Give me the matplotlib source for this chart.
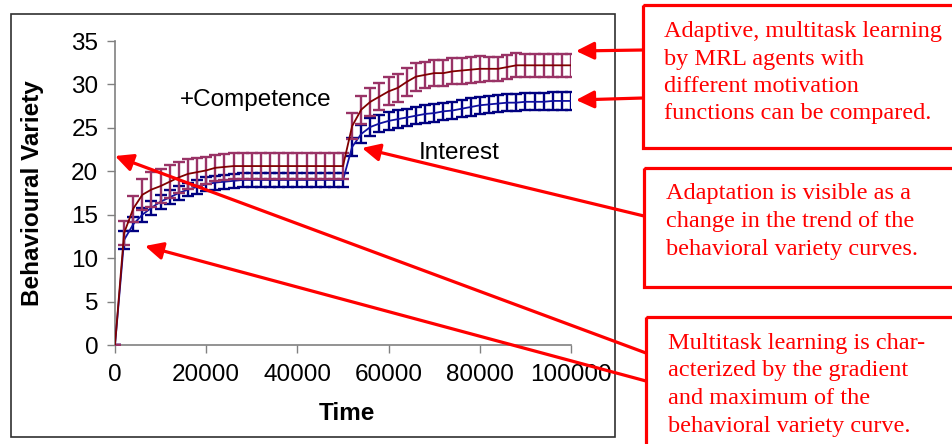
import numpy as np
import matplotlib.pyplot as plt
from matplotlib.patches import Rectangle

# === Data ===
time = np.arange(0, 100001, 2000)

competence = [0, 12.9, 15.7, 17.3, 17.9, 18.3, 18.8, 19.3, 19.7, 19.9, 20.1, 20.4, 20.5, 20.6, 20.6,
              20.6, 20.6, 20.6, 20.6, 20.6, 20.6, 20.6, 20.6, 20.6, 20.6, 20.6,
              25.2, 27.1, 28.0, 28.6, 29.2, 29.6, 30.3, 30.9, 31.1, 31.3, 31.3, 31.5, 31.6, 31.7,
              31.8, 31.8, 31.8, 32.0, 32.2, 32.2, 32.2, 32.2, 32.2, 32.2, 32.2]
competence_err = [0, 1.4, 1.5, 1.8, 2.0, 2.0, 1.9, 1.8, 1.7, 1.6, 1.6, 1.5, 1.5, 1.5, 1.5,
                  1.5, 1.5, 1.5, 1.5, 1.5, 1.5, 1.5, 1.5, 1.5, 1.5, 1.5,
                  1.5, 1.6, 1.6, 1.6, 1.6, 1.6, 1.6, 1.6, 1.5, 1.5, 1.5, 1.5, 1.5, 1.5,
                  1.5, 1.4, 1.4, 1.4, 1.4, 1.3, 1.3, 1.3, 1.3, 1.3, 1.3]

interest = [0, 12.1, 13.9, 15.0, 15.8, 16.5, 17.0, 17.5, 17.9, 18.2, 18.5, 18.7, 18.8, 18.9, 19.0,
            19.0, 19.0, 19.0, 19.0, 19.0, 19.0, 19.0, 19.0, 19.0, 19.0, 19.0,
            22.8, 24.3, 25.1, 25.5, 25.8, 26.0, 26.2, 26.4, 26.6, 26.7, 26.9, 27.0, 27.2, 27.4,
            27.6, 27.7, 27.8, 27.9, 27.9, 28.0, 28.0, 28.0, 28.1, 28.1, 28.1]
interest_err = [0, 1.0, 0.8, 0.8, 0.8, 0.8, 0.8, 0.8, 0.8, 0.8, 0.8, 0.8, 0.8, 0.8, 0.8,
                0.8, 0.8, 0.8, 0.8, 0.8, 0.8, 0.8, 0.8, 0.8, 0.8, 0.8,
                1.0, 1.0, 1.0, 1.0, 1.0, 1.0, 1.0, 1.0, 1.0, 1.0, 1.0, 1.0, 1.0, 1.0,
                1.0, 1.0, 1.0, 1.0, 1.0, 1.0, 1.0, 1.0, 1.0, 1.0, 1.0]

x_ticks = [0, 20000, 40000, 60000, 80000, 100000]
y_ticks = [0, 5, 10, 15, 20, 25, 30, 35]

box_texts = [
    ["Adaptive, multitask learning", "by MRL agents with", "different motivation",
     "functions can be compared."],
    ["Adaptation is visible as a", "change in the trend of the", "behavioral variety curves."],
    ["Multitask learning is char-", "acterized by the gradient", "and maximum of the",
     "behavioral variety curve."],
]

plt.rcParams['font.family'] = ['Liberation Sans', 'DejaVu Sans']

W, H = 953, 444
fig = plt.figure(figsize=(W / 100, H / 100), dpi=100)

# === Main chart ===
ax = fig.add_axes([115 / W, 1 - 345 / H, 456 / W, 304 / H])

ax.errorbar(time, interest, yerr=interest_err, fmt='none', ecolor='#000080',
            elinewidth=1.7, capsize=4.2, capthick=1.7, zorder=2)
ax.plot(time, interest, color='#1010A0', lw=1.3, zorder=3)
ax.errorbar(time, competence, yerr=competence_err, fmt='none', ecolor='#993366',
            elinewidth=1.7, capsize=4.2, capthick=1.7, zorder=4)
ax.plot(time, competence, color='#800000', lw=1.3, zorder=5)

ax.set_xlim(0, 100000)
ax.set_ylim(0, 35)
ax.set_xticks(x_ticks)
ax.set_yticks(y_ticks)
ax.set_xticklabels([str(v) for v in x_ticks], fontsize=17.5)
ax.set_yticklabels([str(v) for v in y_ticks], fontsize=17.5)
ax.tick_params(axis='both', direction='out', length=6, width=1, color='#808080')
ax.tick_params(axis='x', pad=8)
ax.tick_params(axis='y', pad=6)
for s in ['top', 'right']:
    ax.spines[s].set_visible(False)
for s in ['left', 'bottom']:
    ax.spines[s].set_color('#808080')
    ax.spines[s].set_linewidth(1.2)

ax.set_xlabel("Time", fontsize=17.5, fontweight='bold', va='center')
ax.xaxis.set_label_coords(0.509, -0.224)
ax.set_ylabel("Behavioural Variety", fontsize=17.5, fontweight='bold', va='center')
ax.yaxis.set_label_coords(-0.182, 0.5)

ax.text(0.142, 0.805, "+Competence", transform=ax.transAxes, fontsize=17.5,
        ha='left', va='center')
ax.text(0.667, 0.63, "Interest", transform=ax.transAxes, fontsize=17.5,
        ha='left', va='center')

# === Overlay in pixel coordinates: frame, boxes, arrows ===
ov = fig.add_axes([0, 0, 1, 1], zorder=10)
ov.set_xlim(0, W)
ov.set_ylim(H, 0)
ov.axis('off')
ov.patch.set_alpha(0)

ov.add_patch(Rectangle((11, 14), 604, 423, fill=False, ec='#303030', lw=1.2))

boxes = [(643, 5, 143), (644, 168, 119), (646, 317, 140)]
for (bx, by, bh) in boxes:
    ov.add_patch(Rectangle((bx, by), 320, bh, fill=False, ec='red', lw=2.3, clip_on=False))

line_y = [[32, 59, 86, 113], [193, 221, 249], [343, 370, 398, 426]]
line_x = [664, 666, 668]
for lines, ys, lx in zip(box_texts, line_y, line_x):
    for txt, ly in zip(lines, ys):
        ov.text(lx, ly, txt, color='red', fontsize=17.5, family=['Liberation Serif'],
                ha='left', va='center')

arrows = [((643, 50), (576, 51)), ((643, 98), (576, 100)), ((644, 216), (362, 148)),
          ((646, 353), (115, 156)), ((646, 381), (145, 246))]
for start, tip in arrows:
    ov.annotate('', xy=tip, xytext=start,
                arrowprops=dict(arrowstyle='-|>,head_length=0.45,head_width=0.22',
                                color='red', lw=2.3, mutation_scale=24,
                                shrinkA=0, shrinkB=0))

fig.savefig('out.png', dpi=100)
